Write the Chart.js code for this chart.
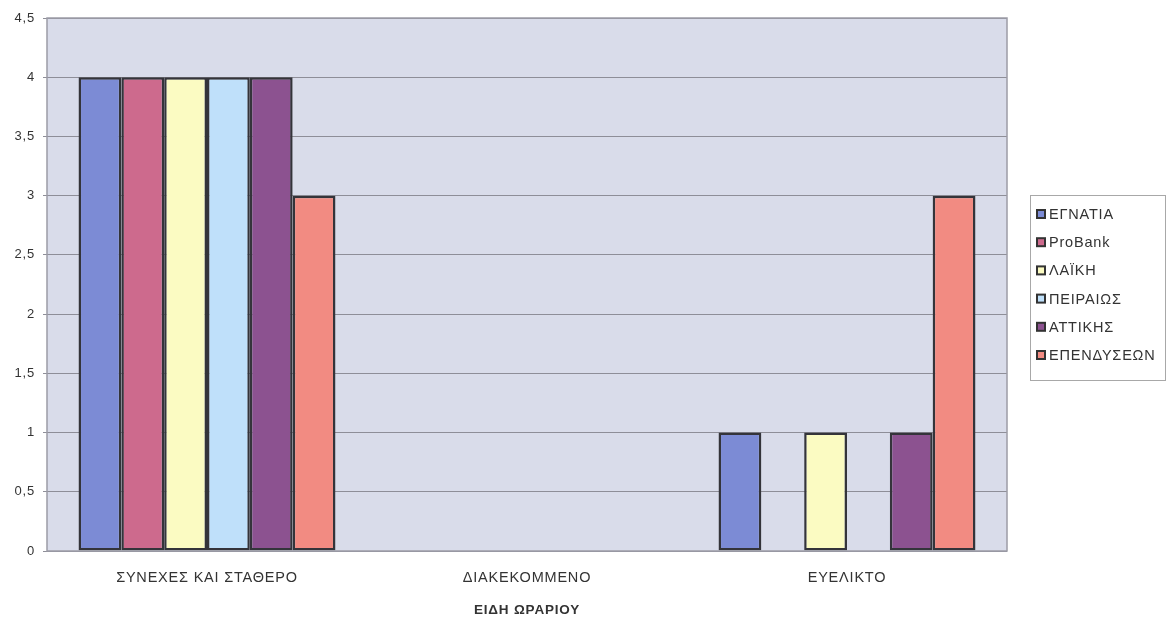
<!DOCTYPE html>
<html>
<head>
<meta charset="utf-8">
<script src="https://cdn.jsdelivr.net/npm/chart.js@4.4.1/dist/chart.umd.min.js"></script>
<style>
  html, body { margin: 0; padding: 0; background: #ffffff; }
  #wrap { width: 1169px; height: 618px; position: relative; }
</style>
</head>
<body>
<div id="wrap"><canvas id="c" width="1169" height="618"></canvas></div>
<script>
// Working-hours types per bank
const categories = ['ΣΥΝΕΧΕΣ ΚΑΙ ΣΤΑΘΕΡΟ', 'ΔΙΑΚΕΚΟΜΜΕΝΟ', 'ΕΥΕΛΙΚΤΟ'];
const banks = ['ΕΓΝΑΤΙΑ', 'ProBank', 'ΛΑΪΚΗ', 'ΠΕΙΡΑΙΩΣ', 'ΑΤΤΙΚΗΣ', 'ΕΠΕΝΔΥΣΕΩΝ'];
const egnatia     = [4, 0, 1];
const probank     = [4, 0, 0];
const laiki       = [4, 0, 1];
const peiraios    = [4, 0, 0];
const attikis     = [4, 0, 1];
const ependyseon  = [3, 0, 3];
const yTicks = [0, 0.5, 1, 1.5, 2, 2.5, 3, 3.5, 4, 4.5];
const xTitle = 'ΕΙΔΗ ΩΡΑΡΙΟΥ';

const seriesValues = [egnatia, probank, laiki, peiraios, attikis, ependyseon];
const colors = ['#7c8bd5', '#cd6a8d', '#fbfbc2', '#bfe0fa', '#8c5290', '#f28b82'];

const FONT = '"Liberation Sans", Arial, sans-serif';
const TEXT = '#333333';
const SPACING = '0.8px';

// Wide, slightly tracked lettering for every label on the canvas
const tracking = {
  id: 'tracking',
  beforeInit(chart) { chart.ctx.letterSpacing = SPACING; },
  beforeLayout(chart) { chart.ctx.letterSpacing = SPACING; },
  beforeDraw(chart) { chart.ctx.letterSpacing = SPACING; }
};

const plotBg = {
  id: 'plotBg',
  beforeDraw(chart) {
    const { ctx, chartArea: a } = chart;
    ctx.save();
    ctx.fillStyle = '#d9dcea';
    ctx.fillRect(a.left, a.top, a.right - a.left, a.bottom - a.top);
    ctx.restore();
  },
  afterDraw(chart) {
    const { ctx, chartArea: a } = chart;
    ctx.save();
    ctx.strokeStyle = '#9c9ca6';
    ctx.lineWidth = 1.5;
    ctx.strokeRect(a.left, a.top, a.right - a.left, a.bottom - a.top);
    ctx.restore();
  }
};

// Boxed legend on the right
const boxLegend = {
  id: 'boxLegend',
  afterDraw(chart) {
    const { ctx } = chart;
    const x0 = 1030, y0 = 195, w = 135, h = 185;
    ctx.save();
    ctx.strokeStyle = '#a8a8a8';
    ctx.lineWidth = 1;
    ctx.strokeRect(x0 + 0.5, y0 + 0.5, w, h);
    ctx.font = '14.5px ' + FONT;
    ctx.letterSpacing = SPACING;
    ctx.textBaseline = 'middle';
    chart.data.datasets.forEach((ds, i) => {
      const cy = 214 + i * 28.2;
      ctx.fillStyle = '#333333';
      ctx.fillRect(1036, cy - 5, 10, 10);
      ctx.fillStyle = ds.backgroundColor;
      ctx.fillRect(1038, cy - 3, 6, 6);
      ctx.fillStyle = TEXT;
      ctx.fillText(ds.label, 1049, cy + 1);
    });
    ctx.restore();
  }
};

new Chart(document.getElementById('c'), {
  type: 'bar',
  data: {
    labels: categories,
    datasets: banks.map((name, i) => ({
      label: name,
      data: seriesValues[i],
      backgroundColor: colors[i],
      borderColor: '#34343a',
      borderWidth: (c) => (c.raw === 0 ? 0 : 2.5),
      borderSkipped: false,
      categoryPercentage: 0.803,
      barPercentage: 1.0
    }))
  },
  options: {
    responsive: false,
    animation: false,
    devicePixelRatio: 1,
    layout: { padding: { left: 0, top: 18, right: 162, bottom: 0 } },
    plugins: {
      legend: { display: false },
      tooltip: { enabled: false }
    },
    scales: {
      x: {
        grid: { display: false, drawTicks: false },
        border: { display: false },
        ticks: { color: TEXT, font: { family: FONT, size: 14.5 }, padding: 18, maxRotation: 0 },
        title: { display: true, text: xTitle, color: TEXT, font: { family: FONT, size: 13.5, weight: 'bold' }, padding: { top: 7, bottom: 0 } },
        afterFit(scale) { scale.height = 67; }
      },
      y: {
        min: 0,
        max: 4.5,
        afterBuildTicks(scale) { scale.ticks = yTicks.map(v => ({ value: v })); },
        ticks: {
          color: TEXT,
          font: { family: FONT, size: 13 },
          padding: 8,
          callback: (v) => String(v).replace('.', ',')
        },
        grid: { color: '#8e8e98', lineWidth: 1, tickLength: 4, drawTicks: true },
        border: { display: false },
        afterFit(scale) { scale.width = 47; }
      }
    }
  },
  plugins: [tracking, plotBg, boxLegend]
});
</script>
</body>
</html>
